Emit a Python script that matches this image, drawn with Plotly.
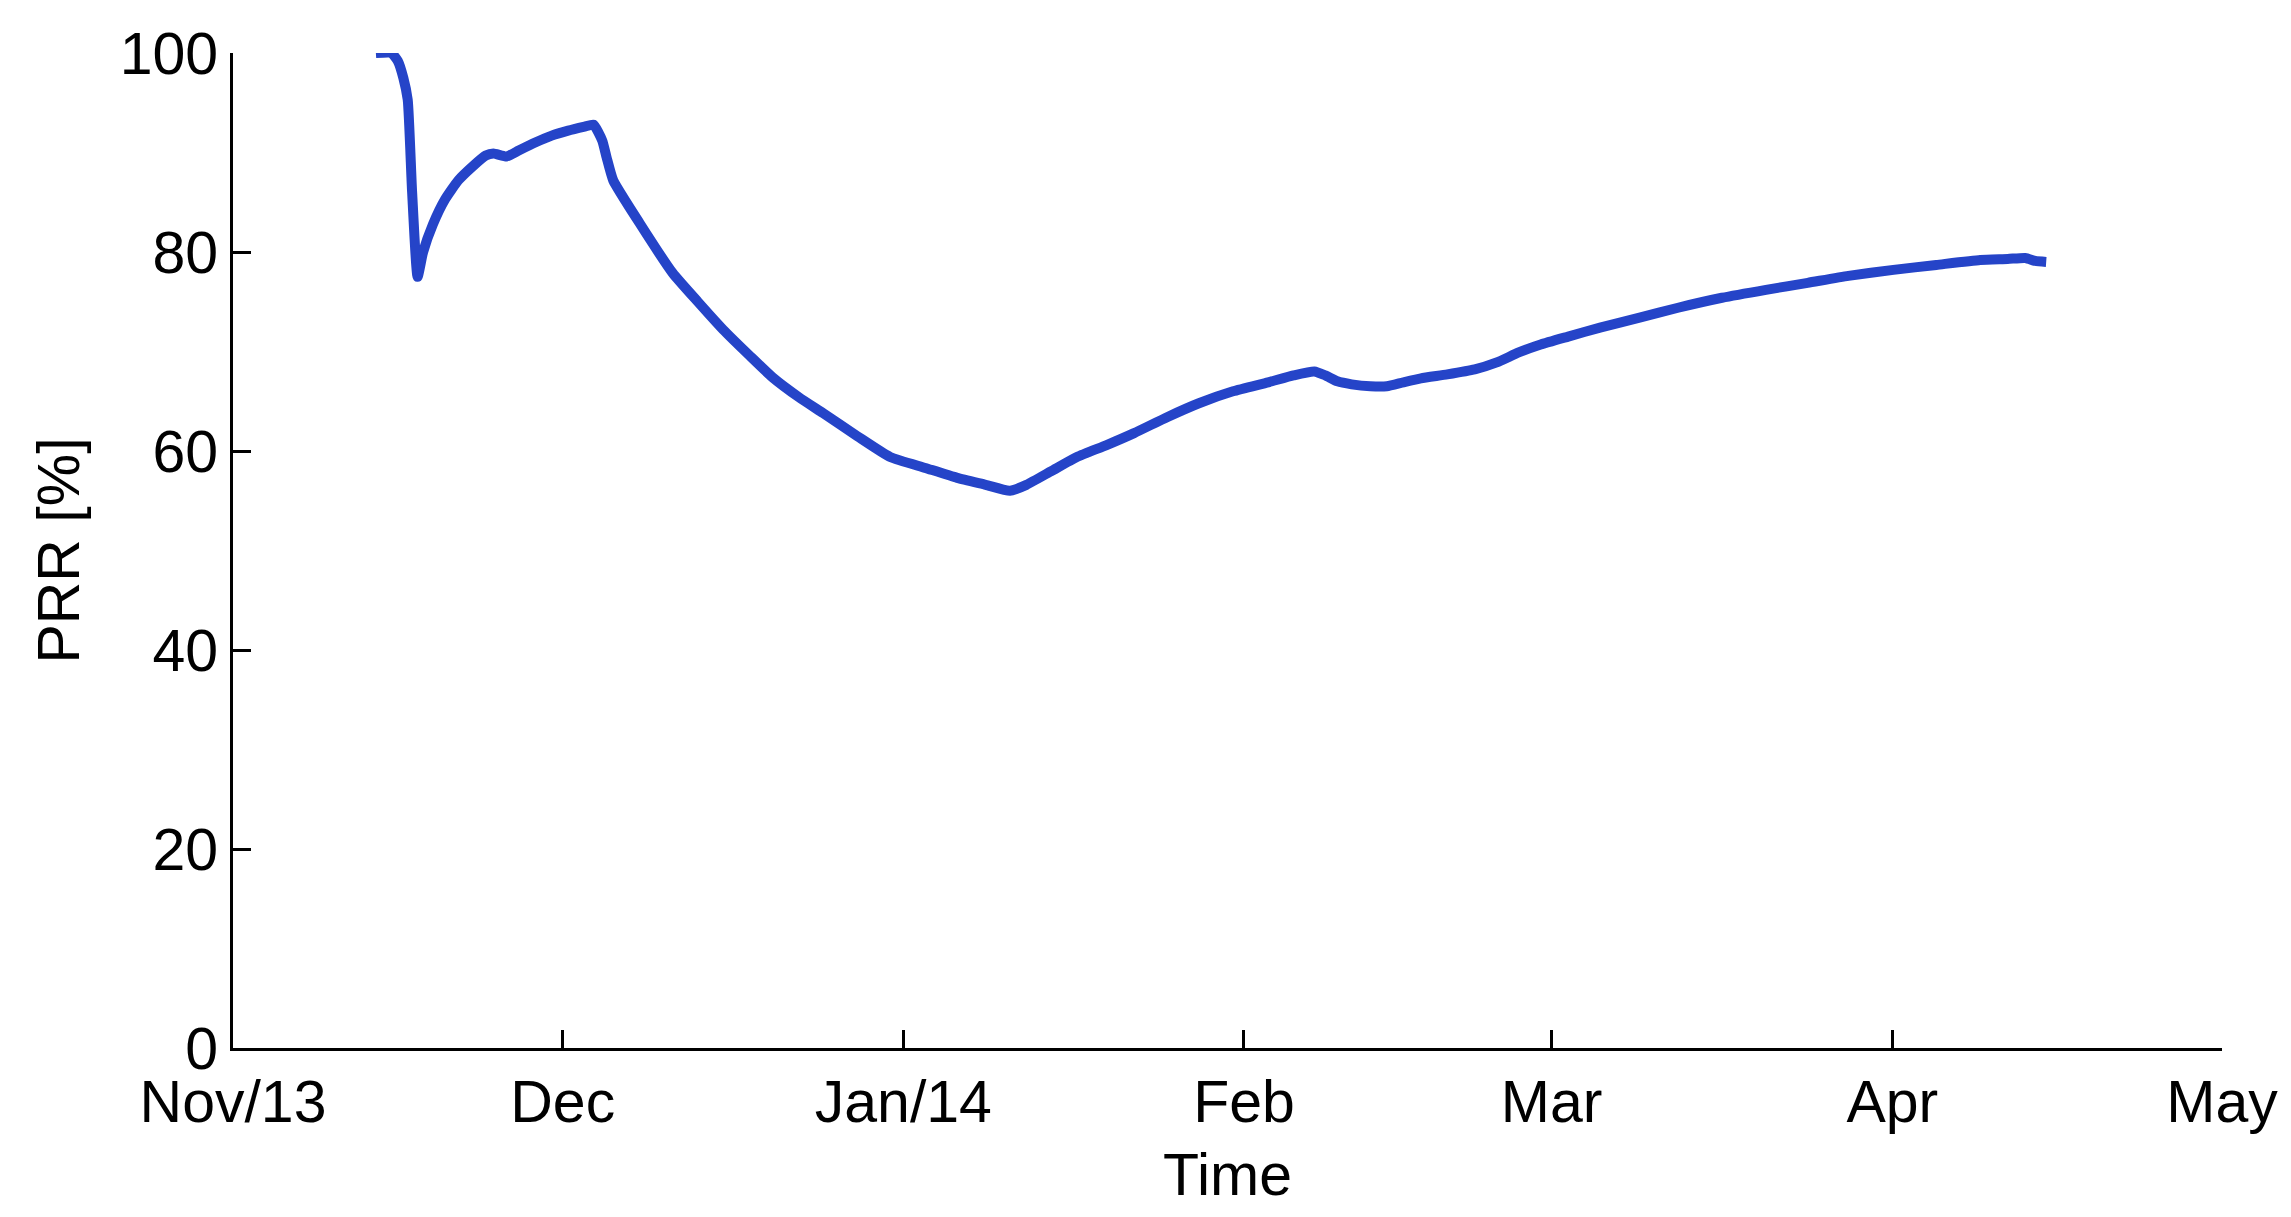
import pandas as pd
import plotly.graph_objects as go

# Days elapsed since 2013-11-01 and PRR values (%)
day_offsets = [
    13.0, 14.4, 15.0, 15.5, 15.9, 16.3, 16.8, 17.3, 18.2, 19.3, 20.5, 21.8,
    23.0, 23.7, 24.9, 26.0, 27.5, 29.0, 30.5, 32.0, 32.8, 33.6, 34.0, 34.6,
    37.0, 40.0, 42.3, 44.6, 47.0, 49.1, 51.5, 53.7, 56.8, 59.8, 63.0, 65.9,
    68.5, 70.7, 72.2, 74.5, 76.8, 79.5, 82.0, 85.0, 87.9, 91.0, 94.2, 96.5,
    98.4, 99.4, 100.5, 101.8, 103.5, 105.0, 106.5, 108.1, 110.5, 113.0,
    115.0, 117.0, 119.0, 121.5, 124.4, 128.0, 131.5, 135.5, 139.5, 143.3,
    147.0, 151.1, 155.0, 159.0, 161.5, 163.1, 164.0, 165.0,
]
prr_values = [
    100.0, 100.0, 99.2, 97.5, 95.3, 86.0, 77.5, 80.0, 82.8, 85.3, 87.2, 88.6,
    89.7, 89.9, 89.6, 90.2, 91.0, 91.7, 92.2, 92.6, 92.8, 91.2, 89.5, 87.2,
    82.9, 77.9, 75.0, 72.2, 69.6, 67.4, 65.4, 63.8, 61.5, 59.4, 58.3, 57.3,
    56.6, 56.0, 56.6, 58.0, 59.4, 60.6, 61.8, 63.4, 64.8, 66.0, 66.9, 67.6,
    68.0, 67.6, 67.0, 66.7, 66.5, 66.5, 66.9, 67.3, 67.7, 68.2,
    68.9, 69.9, 70.7, 71.5, 72.4, 73.4, 74.4, 75.4, 76.2, 76.9,
    77.6, 78.2, 78.7, 79.2, 79.3, 79.4, 79.1, 79.0,
]

start_date = "2013-11-01"
tick_dates = ["2013-11-01", "2013-12-01", "2014-01-01", "2014-02-01",
              "2014-03-01", "2014-04-01", "2014-05-01"]
tick_labels = ["Nov/13", "Dec", "Jan/14", "Feb", "Mar", "Apr", "May"]
y_ticks = [0, 20, 40, 60, 80, 100]

dates = pd.Timestamp(start_date) + pd.to_timedelta(day_offsets, unit="D")

FONT = "Liberation Sans, Arial, sans-serif"
FS = 59

fig = go.Figure()
fig.add_trace(go.Scatter(
    x=dates, y=prr_values, mode="lines",
    line=dict(color="#2544C8", width=10, shape="spline", smoothing=0.5),
    showlegend=False, hoverinfo="x+y",
))

fig.update_layout(
    width=2291, height=1217,
    margin=dict(l=225, r=77, t=45, b=177, autoexpand=False),
    paper_bgcolor="white", plot_bgcolor="white",
    font=dict(family=FONT, size=FS, color="black"),
)
fig.update_xaxes(
    type="date",
    range=[tick_dates[0], tick_dates[-1]],
    tickvals=tick_dates, ticktext=tick_labels,
    ticks="inside", ticklen=18, tickwidth=3, tickcolor="black",
    showline=True, linecolor="black", linewidth=3,
    showgrid=False, zeroline=False,
    automargin=False,
    tickfont=dict(family=FONT, size=FS, color="black"),
    title=dict(text="Time", font=dict(family=FONT, size=FS, color="black"), standoff=20),
)
fig.update_yaxes(
    range=[0, 100],
    tickvals=y_ticks,
    ticks="inside", ticklen=18, tickwidth=3, tickcolor="black",
    showline=True, linecolor="black", linewidth=3,
    showgrid=False, zeroline=False,
    automargin=False,
    tickfont=dict(family=FONT, size=FS, color="black"),
    title=dict(text="PRR [%]", font=dict(family=FONT, size=FS, color="black"), standoff=22),
)

fig.write_html("out.html")
